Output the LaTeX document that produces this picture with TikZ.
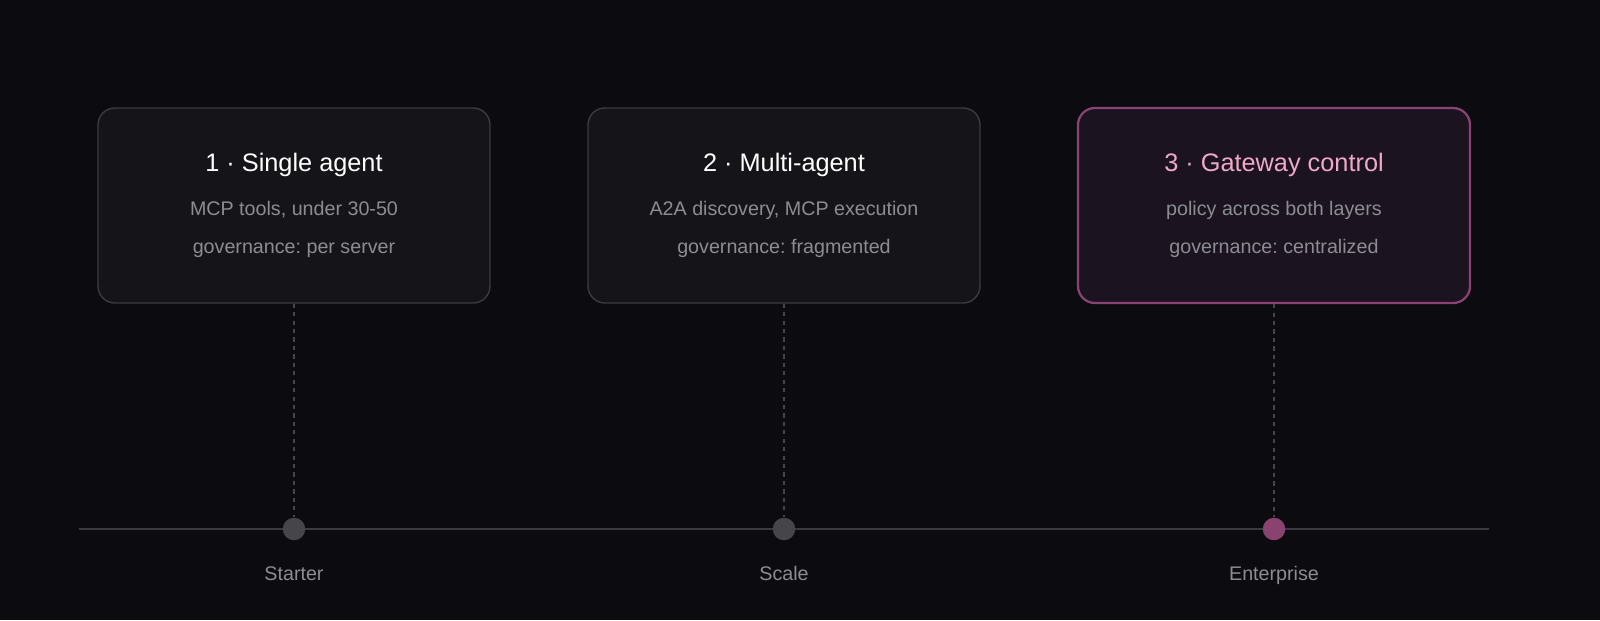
\documentclass[tikz,border=0pt]{standalone}
\usepackage{fontspec}
\setmainfont{Liberation Sans}
\frenchspacing
\definecolor{bgcol}{HTML}{0B0B10}
\definecolor{boxfill}{HTML}{151519}
\definecolor{boxline}{HTML}{3A3A40}
\definecolor{hotfill}{HTML}{1C1320}
\definecolor{hotline}{HTML}{8A4270}
\definecolor{hottext}{HTML}{F0A8C8}
\definecolor{dimtext}{HTML}{8C8C92}
\definecolor{dotcol}{HTML}{45454A}
\begin{document}
\begin{tikzpicture}[x=0.025cm,y=-0.025cm,
        stage/.style = {rectangle, rounded corners=12pt, draw=boxline, fill=boxfill, line width=1pt,
            minimum width=392*0.025cm, minimum height=195*0.025cm},
        hot/.style = {draw=hotline, fill=hotfill, line width=1.6pt},
        title/.style = {text=white, anchor=base, font=\fontsize{18}{20}\selectfont},
        info/.style = {text=dimtext, anchor=base, font=\fontsize{14}{16}\selectfont},
        dot/.style = {circle, fill=dotcol, minimum size=16pt, inner sep=0pt},
        stem/.style = {dashed, draw=dotcol, line width=0.8pt}
    ]
    \useasboundingbox (0,0) rectangle (1600,620);
    \fill[bgcol] (0,0) rectangle (1600,620);
    \draw[draw=boxline, line width=1pt] (79,529) coordinate (tl) -- (1489,529) coordinate (tr);
    % stages
    \node[stage] (s1) at (294,205.5) {};
    \node[stage] (s2) at (784,205.5) {};
    \node[stage, hot] (s3) at (1274,205.5) {};
    \node[title] (t1) at (294,171) {1 · Single agent};
    \node[title] (t2) at (784,171) {2 · Multi-agent};
    \node[title, text=hottext] (t3) at (1274,171) {3 · Gateway control};
    \node[info] (a1) at (294,215) {MCP tools, under 30-50};
    \node[info] (b1) at (294,253) {governance: per server};
    \node[info] (a2) at (784,215) {A2A discovery, MCP execution};
    \node[info] (b2) at (784,253) {governance: fragmented};
    \node[info] (a3) at (1274,215) {policy across both layers};
    \node[info] (b3) at (1274,253) {governance: centralized};
    % timeline
    \node[dot] (d1) at (294,529) {};
    \node[dot] (d2) at (784,529) {};
    \node[dot, fill=hotline] (d3) at (1274,529) {};
    \foreach \i in {1,2,3}
        \draw[stem] (s\i.south) -- (d\i.north);
    \node[info] (l1) at (294,580) {Starter};
    \node[info] (l2) at (784,580) {Scale};
    \node[info] (l3) at (1274,580) {Enterprise};
\end{tikzpicture}
\end{document}
